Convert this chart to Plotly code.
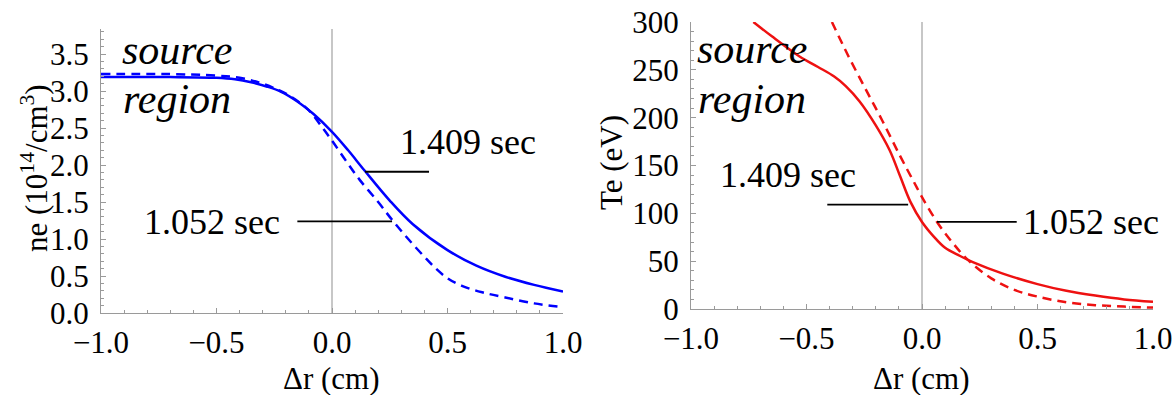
import plotly.graph_objects as go

# Electron density ne (10^14/cm^3) versus radial offset, two discharge times
ne_r_1409 = [-1.0, -0.7, -0.5, -0.42, -0.35, -0.28, -0.22, -0.15, -0.08, 0.0, 0.07, 0.14, 0.25, 0.35, 0.5, 0.625, 0.75, 0.875, 1.0]
ne_1409 = [3.19, 3.19, 3.18, 3.16, 3.12, 3.06, 2.99, 2.86, 2.69, 2.45, 2.20, 1.93, 1.52, 1.20, 0.85, 0.64, 0.49, 0.38, 0.29]

ne_r_1052 = [-1.0, -0.7, -0.5, -0.4, -0.32, -0.25, -0.18, -0.1, -0.04, 0.0, 0.06, 0.12, 0.2, 0.26, 0.33, 0.4, 0.45, 0.5, 0.56, 0.65, 0.75, 0.875, 1.0]
ne_1052 = [3.23, 3.23, 3.21, 3.18, 3.12, 3.04, 2.93, 2.74, 2.50, 2.33, 2.06, 1.80, 1.50, 1.26, 1.00, 0.76, 0.60, 0.47, 0.37, 0.28, 0.21, 0.13, 0.08]

# Electron temperature Te (eV) versus radial offset
te_r_1409 = [-0.73, -0.65, -0.53, -0.45, -0.38, -0.33, -0.27, -0.2, -0.14, -0.095, -0.05, 0.0, 0.05, 0.1, 0.16, 0.22, 0.35, 0.5, 0.625, 0.75, 0.875, 1.0]
te_1409 = [300, 285, 264, 253, 243, 233, 217, 192, 166, 139, 112, 91, 76, 64, 56, 49, 37, 26, 19, 14, 10, 7.5]

te_r_1052 = [-0.39, -0.32, -0.24, -0.17, -0.095, -0.04, 0.0, 0.065, 0.13, 0.2, 0.3, 0.4, 0.5, 0.625, 0.75, 0.875, 1.0]
te_1052 = [300, 265, 228, 196, 160, 135, 117, 91, 70, 51, 32, 20, 13, 7, 4, 2.5, 1.5]

x_ticks = [-1.0, -0.5, 0.0, 0.5, 1.0]
x_tick_text = ["\u22121.0", "\u22120.5", "0.0", "0.5", "1.0"]
ne_ticks = [0.0, 0.5, 1.0, 1.5, 2.0, 2.5, 3.0, 3.5]
ne_tick_text = ["0.0", "0.5", "1.0", "1.5", "2.0", "2.5", "3.0", "3.5"]
te_ticks = [0, 50, 100, 150, 200, 250, 300]
te_tick_text = ["0", "50", "100", "150", "200", "250", "300"]

W, H = 1175, 395
FONT = "Liberation Serif"
AXIS_GRAY = "#9a9a9a"
BLUE = "#0000ff"
RED = "#ee1111"
DASH = "9px,6px"


def px_x(p):
    return p / W


def px_y(p):
    return 1 - p / H


fig = go.Figure()

fig.add_trace(go.Scatter(x=ne_r_1409, y=ne_1409, mode="lines", line=dict(color=BLUE, width=2.5, shape="spline"),
                         xaxis="x", yaxis="y", showlegend=False))
fig.add_trace(go.Scatter(x=ne_r_1052, y=ne_1052, mode="lines", line=dict(color=BLUE, width=2.5, dash=DASH, shape="spline"),
                         xaxis="x", yaxis="y", showlegend=False))
fig.add_trace(go.Scatter(x=te_r_1409, y=te_1409, mode="lines", line=dict(color=RED, width=2.5, shape="spline"),
                         xaxis="x2", yaxis="y2", showlegend=False))
fig.add_trace(go.Scatter(x=te_r_1052, y=te_1052, mode="lines", line=dict(color=RED, width=2.5, dash=DASH, shape="spline"),
                         xaxis="x2", yaxis="y2", showlegend=False))

tick_font = dict(family=FONT, size=31, color="black")


def x_axis(domain, anchor):
    return dict(domain=domain, anchor=anchor, range=[-1, 1], showgrid=False, zeroline=False, automargin=False,
                showline=True, linecolor=AXIS_GRAY, linewidth=1.2,
                ticks="inside", ticklen=5, tickcolor=AXIS_GRAY, tickwidth=1,
                tickvals=x_ticks, ticktext=x_tick_text, tickfont=tick_font, ticklabelstandoff=2,
                minor=dict(ticks="inside", ticklen=3, dtick=0.1, tick0=0, tickcolor=AXIS_GRAY, showgrid=False),
                fixedrange=True)


def y_axis(domain, anchor, rng, vals, text, minor_step):
    return dict(domain=domain, anchor=anchor, range=rng, showgrid=False, zeroline=False, automargin=False,
                showline=True, linecolor=AXIS_GRAY, linewidth=1.2,
                ticks="inside", ticklen=5, tickcolor=AXIS_GRAY, tickwidth=1,
                tickvals=vals, ticktext=text, tickfont=tick_font, ticklabelstandoff=5,
                minor=dict(ticks="inside", ticklen=3, dtick=minor_step, tick0=0, tickcolor=AXIS_GRAY, showgrid=False),
                fixedrange=True)


fig.update_layout(
    width=W, height=H,
    margin=dict(l=0, r=0, t=0, b=0, autoexpand=False),
    paper_bgcolor="white", plot_bgcolor="white",
    xaxis=x_axis([px_x(101), px_x(563)], "y"),
    yaxis=y_axis([px_y(313), px_y(29)], "x", [0, 3.84], ne_ticks, ne_tick_text, 0.1),
    xaxis2=x_axis([px_x(691), px_x(1153)], "y2"),
    yaxis2=y_axis([px_y(309), px_y(22)], "x2", [0, 300], te_ticks, te_tick_text, 10),
)

# vertical reference line at zero offset in each panel
for xr, yr in (("x", "y domain"), ("x2", "y2 domain")):
    fig.add_shape(type="line", xref=xr, yref=yr, x0=0, x1=0, y0=0, y1=1,
                  line=dict(color="#b4b4b4", width=1.5), layer="below")

# leader lines for the time labels
leaders = [
    ("x", "y", 0.143, 0.42, 1.91),
    ("x", "y", -0.15, 0.26, 1.24),
    ("x2", "y2", -0.41, -0.06, 109),
    ("x2", "y2", 0.065, 0.41, 91),
]
for xr, yr, xa, xb, yv in leaders:
    fig.add_shape(type="line", xref=xr, yref=yr, x0=xa, x1=xb, y0=yv, y1=yv,
                  line=dict(color="black", width=1.8))

label_font = dict(family=FONT, size=36, color="black")
labels = [
    ("x", "y", 0.59, 2.31, "1.409 sec"),
    ("x", "y", -0.52, 1.23, "1.052 sec"),
    ("x2", "y2", -0.58, 140, "1.409 sec"),
    ("x2", "y2", 0.73, 91, "1.052 sec"),
]
for xr, yr, xv, yv, t in labels:
    fig.add_annotation(xref=xr, yref=yr, x=xv, y=yv, text=t, showarrow=False,
                       xanchor="center", yanchor="middle", font=label_font)

region_font = dict(family=FONT, size=42, color="black")
for xr, yr, xv, y1, y2 in (("x", "y", -0.67, 3.55, 2.89), ("x2", "y2", -0.736, 272, 220)):
    fig.add_annotation(xref=xr, yref=yr, x=xv, y=y1, text="<i>source</i>", showarrow=False,
                       xanchor="center", yanchor="middle", font=region_font)
    fig.add_annotation(xref=xr, yref=yr, x=xv, y=y2, text="<i>region</i>", showarrow=False,
                       xanchor="center", yanchor="middle", font=region_font)

title_font = dict(family=FONT, size=31, color="black")
fig.add_annotation(xref="paper", yref="paper", x=px_x(331), y=px_y(378), text="\u0394r (cm)",
                   showarrow=False, xanchor="center", yanchor="middle", font=title_font)
fig.add_annotation(xref="paper", yref="paper", x=px_x(921), y=px_y(378), text="\u0394r (cm)",
                   showarrow=False, xanchor="center", yanchor="middle", font=title_font)
fig.add_annotation(xref="paper", yref="paper", x=px_x(34), y=px_y(168),
                   text="ne (10<sup>14</sup>/cm<sup>3</sup>)", textangle=-90,
                   showarrow=False, xanchor="center", yanchor="middle", font=title_font)
fig.add_annotation(xref="paper", yref="paper", x=px_x(611), y=px_y(163), text="Te (eV)", textangle=-90,
                   showarrow=False, xanchor="center", yanchor="middle", font=title_font)

fig.write_html("out.html")
